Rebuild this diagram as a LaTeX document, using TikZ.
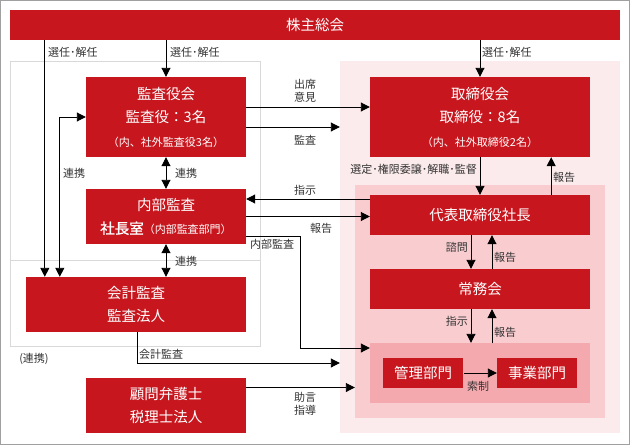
\documentclass[tikz,border=0pt]{standalone}
\usepackage{fontspec}
\setmainfont{Noto Sans CJK JP}
\newfontfamily\demigras[FakeBold=1.2]{Noto Sans CJK JP}
\usetikzlibrary{arrows.meta,positioning}

\definecolor{rouge}{RGB}{200,22,30}
\definecolor{rose1}{RGB}{252,235,236}
\definecolor{rose2}{RGB}{249,205,208}
\definecolor{rose3}{RGB}{244,169,174}
\definecolor{grisclair}{RGB}{217,217,217}
\definecolor{griscadre}{RGB}{160,160,160}
\definecolor{texte}{RGB}{51,51,51}

\begin{document}
\begin{tikzpicture}[x=1pt,y=-1pt,
	boite/.style={fill=rouge, text=white, inner sep=0pt, align=center, font=\fontsize{14.5}{23.5}\selectfont},
	zone/.style={inner sep=0pt},
	etiquette/.style={text=texte, inner sep=0pt, align=center, font=\fontsize{11}{13}\selectfont},
	fleche/.style={line width=0.9pt, -{Triangle[length=9pt,width=9pt]}},
	fleches/.style={line width=0.9pt, {Triangle[length=9pt,width=9pt]}-{Triangle[length=9pt,width=9pt]}}]

%Cadre
\useasboundingbox (0,0) rectangle (630,445);
\draw[griscadre, line width=1pt] (0.5,0.5) rectangle (629.5,444.5);

\def \petit{\fontsize{11}{13}\selectfont}

%Zones
\node[zone, draw=grisclair, line width=1pt, minimum width=250pt, minimum height=199pt] (kansahaut) at (135,160.5) {};
\node[zone, draw=grisclair, line width=1pt, minimum width=250pt, minimum height=86pt] (kansabas) at (135,303) {};
\node[zone, fill=rose1, minimum width=280pt, minimum height=372pt] (torizone) at (480,247) {};
\node[zone, fill=rose2, minimum width=250pt, minimum height=233pt] (shachozone) at (480,301.5) {};
\node[zone, fill=rose3, minimum width=220pt, minimum height=60pt] (bumonzone) at (480,373) {};

%Organes
\node[boite, minimum width=610pt, minimum height=30pt] (kabunushi) at (315,25) {株主総会};
\node[boite, minimum width=160pt, minimum height=80pt] (kansayakukai) at (166,117) {監査役会\\監査役：3名\\{\petit （内、社外監査役3名）}};
\node[boite, minimum width=220pt, minimum height=80pt] (torishimari) at (480,117) {取締役会\\取締役：8名\\{\petit （内、社外取締役2名）}};
\node[boite, minimum width=160pt, minimum height=55pt] (naibu) at (166,216.5) {内部監査\\{\demigras 社長室}{\petit （内部監査部門）}};
\node[boite, minimum width=220pt, minimum height=40pt] (daihyo) at (480,215) {代表取締役社長};
\node[boite, minimum width=220pt, minimum height=55pt] (kaikei) at (136,304.5) {会計監査\\監査法人};
\node[boite, minimum width=220pt, minimum height=40pt] (jomu) at (480,289) {常務会};
\node[boite, minimum width=80pt, minimum height=30pt] (kanri) at (423,373) {管理部門};
\node[boite, minimum width=80pt, minimum height=30pt] (jigyo) at (537,373) {事業部門};
\node[boite, minimum width=160pt, minimum height=55pt] (komon) at (166,405.5) {顧問弁護士\\税理士法人};

%Fleches
\draw[fleche] ([xshift=19pt]kaikei.north west |- kabunushi.south) -- ([xshift=19pt]kaikei.north west);
\draw[fleches] ([xshift=34pt]kaikei.north west) |- (kansayakukai.west);
\draw[fleche] (kabunushi.south -| kansayakukai.north) -- (kansayakukai.north);
\draw[fleche] (kabunushi.south -| torishimari.north) -- (torishimari.north);
\draw[fleche] ([yshift=10pt]kansayakukai.east) -- ([yshift=10pt]torishimari.west);
\draw[fleche] ([yshift=-10pt]kansayakukai.east) -- ([yshift=-10pt]kansayakukai.east -| torizone.west);
\draw[fleches] (kansayakukai.south) -- (naibu.north);
\draw[fleches] (naibu.south) -- (naibu.south |- kaikei.north);
\draw[fleche] (torishimari.south) -- (daihyo.north);
\draw[fleche] ([xshift=-39pt]daihyo.north east) -- ([xshift=-39pt]torishimari.south east);
\draw[fleche] ([yshift=16pt]daihyo.west) -- ([yshift=16pt]daihyo.west -| naibu.east);
\draw[fleche] (naibu.east) -- (naibu.east -| daihyo.west);
\draw[fleche] ([yshift=-19.5pt]naibu.east) -| ([xshift=-69pt,yshift=25pt]bumonzone.west) -- ([yshift=25pt]bumonzone.west);
\draw[fleche] ([xshift=-9pt]daihyo.south) -- ([xshift=-9pt]jomu.north);
\draw[fleche] ([xshift=12pt]jomu.north) -- ([xshift=12pt]daihyo.south);
\draw[fleche] ([xshift=-9pt]jomu.south) -- ([xshift=-9pt]bumonzone.north);
\draw[fleche] ([xshift=12pt]bumonzone.north) -- ([xshift=12pt]jomu.south);
\draw[fleche] ([xshift=1pt]kanri.east) -- (jigyo.west);
\draw[fleche] ([xshift=1pt]kaikei.south) |- ([yshift=10pt]kanri.west -| torizone.west);
\draw[fleche] ([yshift=18pt]komon.east) -- ([yshift=18pt]komon.east -| shachozone.west);

%Etiquettes
\node[etiquette, right] (l-senin1) at (48,52) {選任･解任};
\node[etiquette, right] (l-senin2) at (170,52) {選任･解任};
\node[etiquette, right] (l-senin3) at (482,52) {選任･解任};
\node[etiquette, right] (l-renkei1) at (63,173) {連携};
\node[etiquette, right] (l-renkei2) at (175,173) {連携};
\node[etiquette, right] (l-renkei3) at (175,261) {連携};
\node[etiquette] (l-shusseki) at (305,91) {出席\\意見};
\node[etiquette] (l-kansa) at (305,140) {監査};
\node[etiquette, left] (l-sentei) at (477,169) {選定･権限委譲･解職･監督};
\node[etiquette, right] (l-hokoku1) at (553,177) {報告};
\node[etiquette] (l-shiji1) at (305,190) {指示};
\node[etiquette] (l-hokoku2) at (321,228) {報告};
\node[etiquette, right] (l-naibu) at (250,244) {内部監査};
\node[etiquette, left] (l-shimon) at (468,247) {諮問};
\node[etiquette, right] (l-hokoku3) at (494,257) {報告};
\node[etiquette, left] (l-shiji2) at (468,321) {指示};
\node[etiquette, right] (l-hokoku4) at (494,332) {報告};
\node[etiquette, right] (l-kaikei) at (139,354) {会計監査};
\node[etiquette] (l-renkei4) at (34,359) {(連携)};
\node[etiquette] (l-jogen) at (305,404) {助言\\指導};
\node[etiquette] (l-kensei) at (478,386) {索制};

\end{tikzpicture}
\end{document}
